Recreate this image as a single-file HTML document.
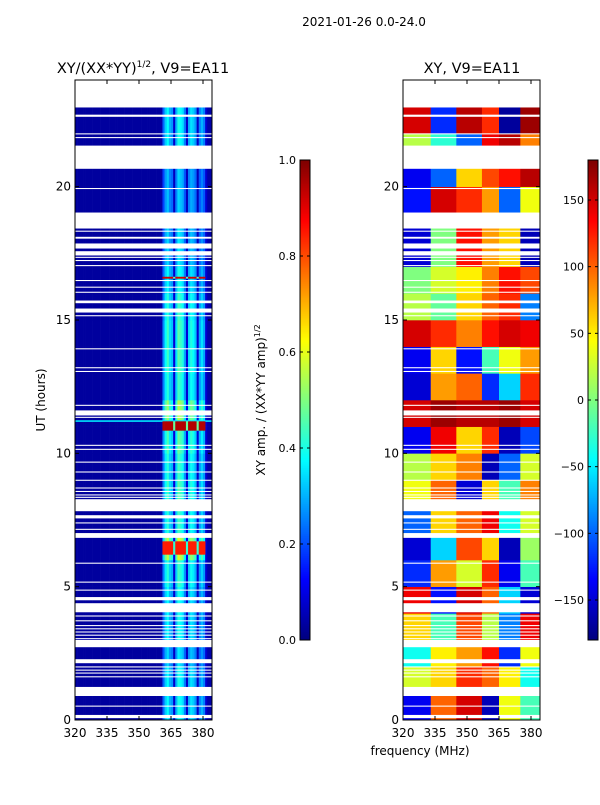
<!DOCTYPE html>
<html><head><meta charset="utf-8"><style>
body{margin:0;background:#fff;width:600px;height:800px;overflow:hidden}
svg{font-family:"DejaVu Sans","Liberation Sans",sans-serif}
</style></head><body>
<svg id="fig" width="600" height="800" viewBox="0 0 600 800" xmlns="http://www.w3.org/2000/svg">
<rect width="600" height="800" fill="#fff"/>
<text x="364" y="26" font-size="12" text-anchor="middle">2021-01-26 0.0-24.0</text>
<text x="143" y="73" font-size="14.5" text-anchor="middle">XY/(XX*YY)<tspan font-size="9" dy="-6">1/2</tspan><tspan dy="6">, V9=EA11</tspan></text>
<text x="472" y="73" font-size="14.5" text-anchor="middle">XY, V9=EA11</text>
<text transform="translate(45,400) rotate(-90)" font-size="12" text-anchor="middle">UT (hours)</text>
<text x="420" y="755" font-size="12" text-anchor="middle">frequency (MHz)</text>
<text transform="translate(265,400) rotate(-90)" font-size="12" text-anchor="middle">XY amp. / (XX*YY amp)<tspan font-size="8" dy="-5">1/2</tspan></text>
<text transform="translate(537,400) rotate(-90)" font-size="12" text-anchor="middle">phase (deg)</text>
<g id="left"></g>
<g id="right"></g>
<g id="cb"></g>
</svg>
<script>
// ---- data ----
const channelsMHz = []; for (let f = 320; f < 384; f++) channelsMHz.push(f);
const colProfile = [
 0.03,0.03,0.03,0.03,0.03,0.03,0.03,0.03,0.03,0.03,0.03,0.03,0.03,0.03,0.03,0.03,0.03,0.03,0.03,0.03,
 0.03,0.03,0.03,0.03,0.03,0.03,0.03,0.03,0.03,0.03,0.03,0.03,0.03,0.03,0.03,0.03,0.03,0.03,0.03,0.03,
 0.04,0.45,0.65,0.75,0.6,0.55,0.15,0.6,0.8,0.75,0.7,0.5,0.15,0.6,0.7,0.65,0.55,0.14,0.5,0.6,0.5,0.08,0.04,0.04];
const hourScale = [0.5,0.5,0.45,0.5,0.5,0.55,0.75,0.55,0.58,0.55,0.6,0.7,0.55,0.58,0.58,0.55,0.5,0.45,0.45,0.42,0.42,0.5,0.5,0.5];
const hotRows = [[10.85,11.2,0.95],[6.2,6.7,0.85],[16.55,16.62,0.92]];
const cyanLine = [[11.18,11.24,0.35]];
const flagged = [[22.97,24],[22.62,22.7],[21.96,22.0],[21.82,21.86],[20.67,21.54],[19.91,19.95],[18.43,19.03],[18.31,18.35],[18.05,18.12],[17.68,17.87],[17.42,17.58],[17.33,17.37],[17.21,17.25],[17.02,17.06],[16.46,16.5],[16.21,16.25],[16.02,16.06],[15.63,15.73],[15.28,15.43],[15.14,15.18],[13.9,13.94],[13.19,13.23],[13.05,13.09],[11.78,11.82],[11.42,11.61],[11.33,11.37],[10.28,10.32],[10.13,10.17],[9.65,9.69],[9.28,9.32],[8.97,9.01],[8.68,8.72],[8.55,8.59],[8.42,8.46],[8.33,8.37],[7.83,8.28],[7.56,7.68],[7.37,7.41],[7.13,7.17],[6.83,7.01],[5.86,5.9],[5.15,5.19],[4.85,4.89],[4.49,4.61],[4.04,4.38],[3.88,3.92],[3.7,3.74],[3.52,3.56],[3.4,3.44],[3.28,3.32],[3.16,3.2],[3.03,3.07],[2.73,3.0],[2.13,2.28],[1.97,2.01],[1.85,1.89],[1.74,1.78],[1.6,1.64],[0.9,1.24],[0.5,0.54],[0.07,0.19]];
const phaseColEdges = [320,333,345,357,365,375,384];
const phaseGrid = [
 [-140,100,150,-160,40,-20],
 [30,60,120,100,50,-40],
 [-40,50,80,130,-120,40],
 [60,-20,110,20,-90,140],
 [140,-130,150,100,-60,-150],
 [-120,80,30,120,-140,-20],
 [-150,-60,110,60,-160,10],
 [-100,60,100,140,-40,30],
 [40,100,-150,60,-20,90],
 [20,60,90,-160,-100,30],
 [-140,140,60,120,-160,-110],
 [150,170,160,160,170,150],
 [-150,80,100,-120,-60,120],
 [-140,60,-130,-20,40,80],
 [150,120,90,130,150,140],
 [20,-10,60,100,120,-90],
 [0,30,50,90,130,110],
 [-150,0,130,80,60,-160],
 [-150,0,130,80,60,-160],
 [-130,150,120,80,-100,40],
 [-140,-100,60,110,130,160],
 [20,-30,-100,140,160,90],
 [150,-120,160,120,-170,170],
 [150,-120,160,120,-170,170]];
const xTicks = [320,335,350,365,380];
const yTicks = [0,5,10,15,20];
const ampTicks = [0.0,0.2,0.4,0.6,0.8,1.0];
const phaseTicks = [-150,-100,-50,0,50,100,150];

// ---- helpers ----
const NS = "http://www.w3.org/2000/svg";
function jet(v){v=Math.max(0,Math.min(1,v));
 const r=Math.max(0,Math.min(1,1.5-Math.abs(4*v-3))),g=Math.max(0,Math.min(1,1.5-Math.abs(4*v-2))),b=Math.max(0,Math.min(1,1.5-Math.abs(4*v-1)));
 return `rgb(${Math.round(r*255)},${Math.round(g*255)},${Math.round(b*255)})`;}
function mk(tag,attrs,parent){const e=document.createElementNS(NS,tag);for(const k in attrs)e.setAttribute(k,attrs[k]);parent.appendChild(e);return e;}
const yS = h => 720 - h*(640/24);
function panel(gid,x0){
 const g=document.getElementById(gid);
 const xS = f => x0 + (f-320)*(32/15);
 return {g,xS};
}
// ---- left amplitude panel ----
(function(){
 const {g,xS}=panel('left',75);
 for(let h=0;h<24;h++){for(let c=0;c<channelsMHz.length;c++){
  const p=colProfile[c]; const v = p<0.1?p:p*hourScale[h];
  const r=mk('rect',{x:xS(channelsMHz[c]),y:yS(h+1),width:32/15+0.3,height:640/24+0.3,fill:jet(v)},g);
  
  
 }}
 cyanLine.forEach(cl=>{
  const r=mk('rect',{x:75,y:yS(cl[1]),width:137,height:yS(cl[0])-yS(cl[1]),fill:jet(cl[2])},g);
  
  
 });
 hotRows.forEach(hr=>{for(let c=0;c<channelsMHz.length;c++){
  const p=colProfile[c]; if(p<0.1) continue;
  const v=hr[2]*(p>0.3?1:0.5);
  const r=mk('rect',{x:xS(channelsMHz[c]),y:yS(hr[1]),width:32/15+0.3,height:yS(hr[0])-yS(hr[1]),fill:jet(v)},g);
  
  
 }});
 flagged.forEach(fr=>{const r=mk('rect',{x:75,y:yS(fr[1]),width:137,height:yS(fr[0])-yS(fr[1]),fill:'#fff'},g);
  
  });
 axes(g,75,xS);
})();
// ---- right phase panel ----
(function(){
 const {g,xS}=panel('right',403);
 for(let h=0;h<24;h++){for(let b=0;b<6;b++){
  const v=(phaseGrid[h][b]+180)/360;
  const r=mk('rect',{x:xS(phaseColEdges[b]),y:yS(h+1),width:xS(phaseColEdges[b+1])-xS(phaseColEdges[b])+0.3,height:640/24+0.3,fill:jet(v)},g);
  
  
 }}
 flagged.forEach(fr=>{const r=mk('rect',{x:403,y:yS(fr[1]),width:137,height:yS(fr[0])-yS(fr[1]),fill:'#fff'},g);
  
  });
 axes(g,403,xS);
})();
function axes(g,x0,xS){
 mk('rect',{x:x0,y:80,width:137,height:640,fill:'none',stroke:'#000','stroke-width':1},g);
 xTicks.forEach(t=>{const x=xS(t);
  mk('line',{x1:x,x2:x,y1:720,y2:716,stroke:'#000'},g);mk('line',{x1:x,x2:x,y1:80,y2:84,stroke:'#000'},g);
  const tx=mk('text',{x:x,y:737,'font-size':12,'text-anchor':'middle'},g);tx.textContent=t;
  
  });
 yTicks.forEach(t=>{const y=yS(t);
  mk('line',{x1:x0,x2:x0+4,y1:y,y2:y,stroke:'#000'},g);mk('line',{x1:x0+137,x2:x0+133,y1:y,y2:y,stroke:'#000'},g);
  const tx=mk('text',{x:x0-4,y:y+4,'font-size':12,'text-anchor':'end'},g);tx.textContent=t;
  
  });
}
// ---- colorbars ----
(function(){
 const g=document.getElementById('cb');
 function bar(x,ticks,lo,hi,name){
  for(let i=0;i<240;i++){mk('rect',{x:x,y:640-(i+1)*2,width:10,height:2.3,fill:jet(i/239)},g);}
  const b=mk('rect',{x:x,y:160,width:10,height:480,fill:'none',stroke:'#000'},g);
  
  
  ticks.forEach(t=>{const y=640-(t-lo)/(hi-lo)*480;
   mk('line',{x1:x,x2:x+3,y1:y,y2:y,stroke:'#000'},g);mk('line',{x1:x+10,x2:x+7,y1:y,y2:y,stroke:'#000'},g);
   const tx=mk('text',{x:x-4,y:y+4,'font-size':11,'text-anchor':'end'},g);
   tx.textContent=(lo===0?t.toFixed(1):String(t).replace('-','\u2212'));
   
   });
 }
 bar(300,ampTicks,0,1,'amp-colorbar');
 bar(588,phaseTicks,-180,180,'phase-colorbar');
})();
</script>
</body></html>
